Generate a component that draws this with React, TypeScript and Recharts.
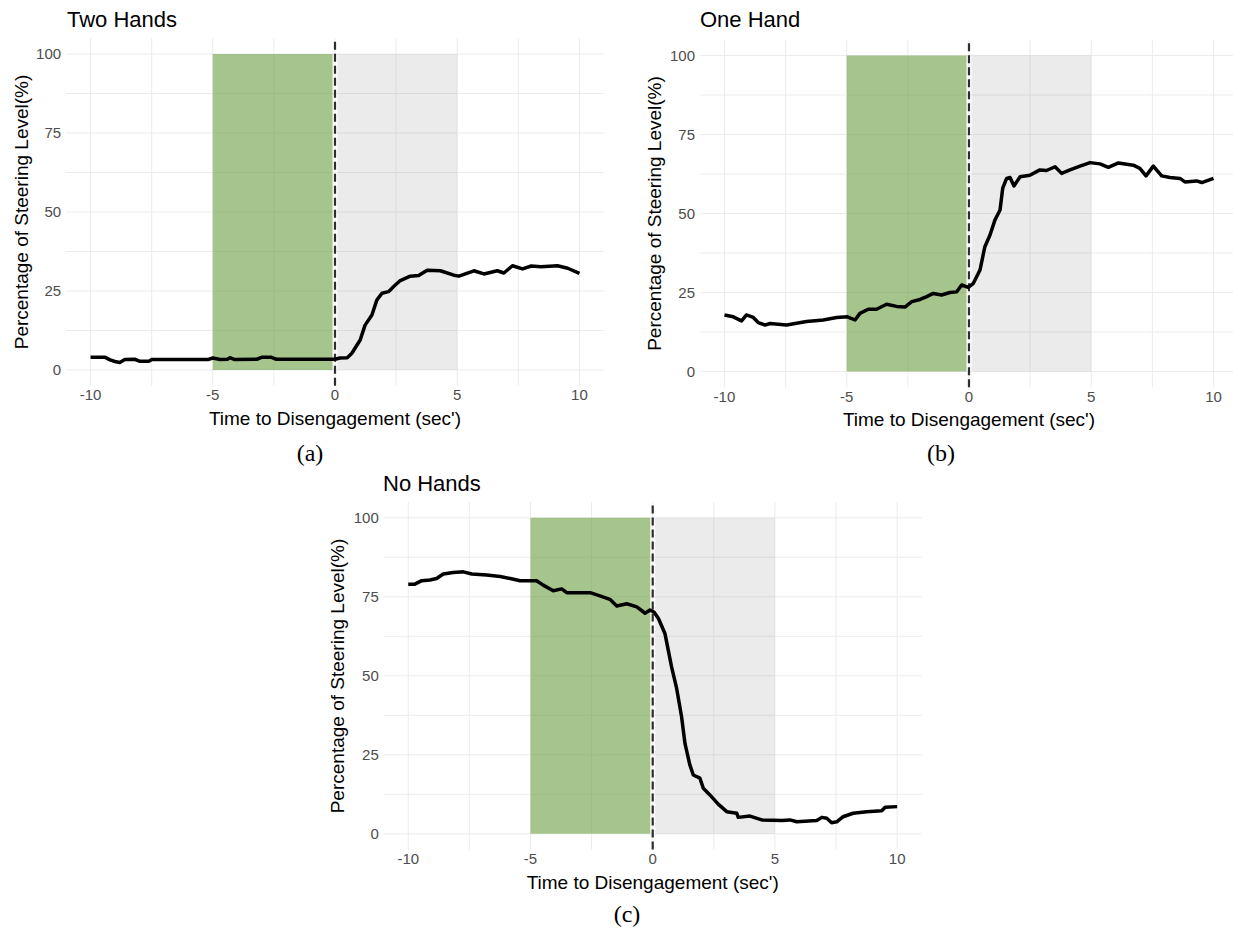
import React from 'react';
import { LineChart, Line, XAxis, YAxis, CartesianGrid, ReferenceArea, ReferenceLine } from 'recharts';

// ---- Data ----
const timeTwoHands = [-10, -9.4, -9.2, -9.0, -8.8, -8.6, -8.2, -8.0, -7.6, -7.5, -5.2, -5.0, -4.7, -4.4, -4.3, -4.1, -3.2, -3.0, -2.6, -2.4, 0.0, 0.2, 0.5, 0.69, 1.03, 1.23, 1.51, 1.71, 1.92, 2.19, 2.4, 2.67, 3.08, 3.42, 3.77, 4.31, 4.86, 5.07, 5.68, 6.09, 6.64, 6.91, 7.26, 7.67, 8.03, 8.42, 9.1, 9.52, 10.0];
const levelTwoHands = [4.0, 4.0, 3.2, 2.7, 2.4, 3.3, 3.4, 2.8, 2.8, 3.3, 3.3, 3.8, 3.3, 3.4, 3.9, 3.3, 3.4, 4.0, 4.0, 3.4, 3.4, 3.8, 3.9, 5.3, 9.5, 14.2, 17.4, 22.1, 24.3, 24.8, 26.4, 28.3, 29.7, 29.9, 31.6, 31.4, 30.0, 29.7, 31.4, 30.4, 31.4, 30.7, 33.0, 32.0, 32.9, 32.7, 33.0, 32.2, 30.6];

const timeOneHand = [-10, -9.64, -9.3, -9.1, -8.82, -8.62, -8.34, -8.14, -7.46, -6.64, -5.96, -5.41, -4.97, -4.66, -4.46, -4.12, -3.78, -3.37, -2.96, -2.62, -2.34, -2.0, -1.73, -1.46, -1.12, -0.78, -0.5, -0.3, -0.03, 0.18, 0.45, 0.65, 0.86, 1.06, 1.27, 1.38, 1.54, 1.68, 1.84, 2.09, 2.49, 2.9, 3.17, 3.52, 3.79, 4.13, 4.54, 4.95, 5.36, 5.7, 6.11, 6.72, 6.99, 7.24, 7.54, 7.88, 8.22, 8.63, 8.83, 9.31, 9.52, 10.0];
const levelOneHand = [17.9, 17.3, 16.0, 17.9, 17.1, 15.5, 14.7, 15.2, 14.7, 15.8, 16.3, 17.1, 17.3, 16.3, 18.4, 19.7, 19.7, 21.3, 20.6, 20.4, 22.1, 22.8, 23.7, 24.7, 24.2, 25.0, 25.2, 27.4, 26.6, 27.9, 32.1, 39.5, 43.2, 47.9, 51.1, 58.0, 61.1, 61.4, 58.7, 61.6, 62.1, 63.8, 63.6, 64.8, 62.7, 63.8, 65.0, 66.1, 65.7, 64.6, 66.0, 65.3, 64.3, 61.9, 65.0, 61.9, 61.4, 61.1, 60.0, 60.3, 59.8, 61.1];

const timeNoHands = [-10, -9.73, -9.45, -9.11, -8.84, -8.57, -8.16, -7.75, -7.4, -6.79, -6.24, -5.83, -5.42, -4.75, -4.48, -4.07, -3.72, -3.52, -2.56, -2.16, -1.75, -1.47, -1.06, -0.65, -0.31, -0.11, 0.05, 0.23, 0.5, 0.77, 0.98, 1.18, 1.32, 1.52, 1.66, 1.93, 2.07, 2.34, 2.68, 3.03, 3.44, 3.5, 3.98, 4.46, 5.28, 5.62, 5.89, 6.71, 6.92, 7.12, 7.32, 7.53, 7.79, 8.2, 8.75, 9.37, 9.51, 10.0];
const levelNoHands = [79.0, 79.0, 80.1, 80.3, 80.8, 82.2, 82.7, 82.9, 82.2, 81.9, 81.4, 80.8, 80.1, 80.1, 78.7, 76.9, 77.5, 76.3, 76.3, 75.3, 74.2, 72.1, 72.8, 71.8, 69.8, 70.8, 70.2, 68.2, 63.4, 52.9, 46.0, 37.1, 28.6, 21.8, 18.6, 17.6, 14.4, 12.3, 9.4, 7.0, 6.5, 5.2, 5.6, 4.4, 4.2, 4.4, 3.8, 4.2, 5.2, 4.9, 3.5, 3.8, 5.4, 6.5, 7.0, 7.3, 8.4, 8.6];

const xTicks = [-10, -5, 0, 5, 10];
const yTicks = [0, 25, 50, 75, 100];
const xGrid = [-10, -7.5, -5, -2.5, 0, 2.5, 5, 7.5, 10];
const yGrid = [0, 12.5, 25, 37.5, 50, 62.5, 75, 87.5, 100];

const panelTitles = ['Two Hands', 'One Hand', 'No Hands'];
const captions = ['(a)', '(b)', '(c)'];
const xTitle = "Time to Disengagement (sec')";
const yTitle = 'Percentage of Steering Level(%)';

const SANS = '"Liberation Sans", Arial, Helvetica, sans-serif';
const SERIF = '"Liberation Serif", "Times New Roman", serif';

type PanelProps = {
  left: number;
  top: number;
  width: number;
  height: number;
  mTop: number;
  mRight: number;
  yAxisWidth: number;
  xAxisHeight: number;
  times: number[];
  values: number[];
};

function Panel({ left, top, width, height, mTop, mRight, yAxisWidth, xAxisHeight, times, values }: PanelProps) {
  const data = times.map((t, i) => ({ t, v: values[i] }));
  const tickStyle = { fill: '#4d4d4d', fontSize: 15, fontFamily: SANS };
  return (
    <div style={{ position: 'absolute', left, top }}>
      <LineChart width={width} height={height} data={data} margin={{ top: mTop, right: mRight, bottom: 0, left: 0 }}>
        <CartesianGrid horizontalValues={yGrid} verticalValues={xGrid} stroke="#ebebeb" strokeWidth={1} />
        <XAxis
          type="number"
          dataKey="t"
          domain={[-11, 11]}
          ticks={xTicks}
          allowDataOverflow
          interval={0}
          axisLine={false}
          tickLine={false}
          tickSize={0}
          tickMargin={4}
          height={xAxisHeight}
          tick={tickStyle}
        />
        <YAxis
          type="number"
          domain={[-5, 105]}
          ticks={yTicks}
          allowDataOverflow
          interval={0}
          axisLine={false}
          tickLine={false}
          tickSize={0}
          tickMargin={5}
          width={yAxisWidth}
          tick={tickStyle}
        />
        <ReferenceArea x1={-5} x2={-0.1} y1={0} y2={100} fill="#6b9e3f" fillOpacity={0.6} stroke="none" />
        <ReferenceArea x1={0.1} x2={5} y1={0} y2={100} fill="#808080" fillOpacity={0.16} stroke="none" />
        <ReferenceLine x={0} stroke="#2e2e2e" strokeWidth={2.2} strokeDasharray="8 4" />
        <Line type="linear" dataKey="v" stroke="#000000" strokeWidth={3.5} strokeLinejoin="round" dot={false} isAnimationActive={false} />
      </LineChart>
    </div>
  );
}

export default function App() {
  return (
    <div style={{ position: 'absolute', left: 0, top: 0, width: 1233, height: 928, overflow: 'hidden', background: '#ffffff' }}>
      <Panel left={0} top={0} width={620} height={440} mTop={38.2} mRight={16.1} yAxisWidth={66.1} xAxisHeight={54.2} times={timeTwoHands} values={levelTwoHands} />
      <Panel left={620} top={0} width={620} height={440} mTop={39.7} mRight={2.05} yAxisWidth={80} xAxisHeight={52.7} times={timeOneHand} values={levelOneHand} />
      <Panel left={310} top={460} width={620} height={440} mTop={42} mRight={8.4} yAxisWidth={73.8} xAxisHeight={50.4} times={timeNoHands} values={levelNoHands} />
      <svg width={1233} height={928} style={{ position: 'absolute', left: 0, top: 0, pointerEvents: 'none' }}>
        <g fontFamily={SANS} fill="#000000">
          <text x={67} y={27} fontSize={22}>{panelTitles[0]}</text>
          <text x={700} y={27} fontSize={22}>{panelTitles[1]}</text>
          <text x={383} y={491} fontSize={22}>{panelTitles[2]}</text>
          <text x={335} y={425} fontSize={19} textAnchor="middle">{xTitle}</text>
          <text x={969} y={426} fontSize={19} textAnchor="middle">{xTitle}</text>
          <text x={652.7} y={889} fontSize={19} textAnchor="middle">{xTitle}</text>
          <text x={28} y={212} fontSize={19} textAnchor="middle" transform="rotate(-90 28 212)">{yTitle}</text>
          <text x={661} y={213.5} fontSize={19} textAnchor="middle" transform="rotate(-90 661 213.5)">{yTitle}</text>
          <text x={344} y={676} fontSize={19} textAnchor="middle" transform="rotate(-90 344 676)">{yTitle}</text>
        </g>
        <g fontFamily={SERIF} fill="#000000" fontSize={24} textAnchor="middle">
          <text x={310} y={461}>{captions[0]}</text>
          <text x={941} y={461}>{captions[1]}</text>
          <text x={627} y={922}>{captions[2]}</text>
        </g>
      </svg>
    </div>
  );
}
